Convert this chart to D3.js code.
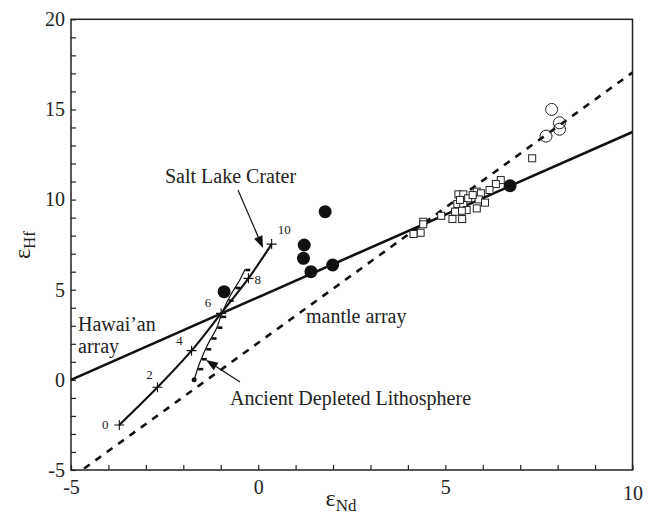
<!DOCTYPE html>
<html><head><meta charset="utf-8">
<script src="https://cdn.jsdelivr.net/npm/d3@7"></script>
<style>body{margin:0;background:#fff}svg{display:block}text{font-family:"Liberation Serif","Times New Roman",serif;fill:#222}</style>
</head><body><svg id="c" width="653" height="517"></svg>
<script>
// ---- data ----
const xTicks = [-5, 0, 5, 10];
const yTicks = [-5, 0, 5, 10, 15, 20];
const hawaiiArray = [[-5, 0], [10, 13.75]];
const mantleArray = [[-4.65, -4.92], [10, 17.05]];
const slcCurve = [[-3.71, -2.5], [-2.69, -0.41], [-1.78, 1.62], [-0.99, 3.69], [-0.26, 5.63], [0.36, 7.53]];
const slcLabels = ["0", "2", "4", "6", "8", "10"];
const adlCurve = [[-1.71, 0.0], [-1.55, 1.0], [-1.33, 2.03], [-1.11, 2.86], [-0.97, 3.69], [-0.71, 4.8], [-0.49, 5.54], [-0.35, 6.13]];
const adlBarsY = [0.6, 1.15, 1.7, 2.3, 2.9, 3.5, 4.4, 5.1, 6.1];
const filledCircles = [[1.79, 9.33], [1.23, 7.48], [1.21, 6.74], [1.41, 6.0], [1.99, 6.37], [-0.91, 4.89], [6.73, 10.77]];
const openCircles = [[7.84, 15.0], [8.05, 14.26], [8.05, 13.9], [7.69, 13.52]];
const openSquares = [[7.32, 12.29], [6.48, 11.08], [6.35, 10.86], [6.18, 10.53], [5.84, 10.44], [5.95, 10.35], [5.35, 10.29], [5.48, 10.29], [5.61, 10.07], [5.89, 10.01], [6.06, 9.83], [5.32, 9.75], [5.48, 9.7], [5.84, 9.51], [5.57, 9.42], [5.44, 9.38], [5.26, 9.33], [5.19, 8.92], [5.45, 8.92], [4.89, 9.1], [4.41, 8.77], [4.41, 8.63], [4.34, 8.16], [4.15, 8.09], [5.39, 9.98], [5.73, 10.25]];

// ---- layout ----
const svg = d3.select("#c");
const L = 71, R = 632.5, T = 19.3, B = 470;
const x = d3.scaleLinear().domain([-5, 10]).range([L, R]);
const y = d3.scaleLinear().domain([-5, 20]).range([B, T]);
const line = d3.line().x(d => x(d[0])).y(d => y(d[1]));
const fmt = d => String(d); // hyphen-minus like the reference

// axes with inward ticks
const gx = svg.append("g").attr("transform", `translate(0,${B})`);
gx.call(d3.axisBottom(x).tickValues(d3.range(-5, 11, 1)).tickSize(-5).tickPadding(0).tickFormat(""));
const gxl = svg.append("g").attr("transform", `translate(0,${B})`);
gxl.call(d3.axisBottom(x).tickValues(xTicks).tickSize(0).tickPadding(10).tickFormat(fmt));
const gy = svg.append("g").attr("transform", `translate(${L},0)`);
gy.call(d3.axisLeft(y).tickValues(d3.range(-5, 21, 1)).tickSize(-5).tickPadding(0).tickFormat(""));
const gyl = svg.append("g").attr("transform", `translate(${L},0)`);
gyl.call(d3.axisLeft(y).tickValues(yTicks).tickSize(0).tickPadding(6).tickFormat(fmt));
[gx, gxl, gy, gyl].forEach(g => { g.select(".domain").remove(); g.selectAll("line").attr("stroke", "#222").attr("stroke-width", 1.2); g.attr("font-family", "Liberation Serif").attr("font-size", 20); });
[gxl, gyl].forEach(g => g.selectAll("text").style("font-size", "20px").style("font-family", "'Liberation Serif', serif").attr("fill", "#222"));
gxl.selectAll(".tick text").attr("dy", (d) => d === 10 ? "1.0em" : "0.71em");
svg.append("rect").attr("x", L).attr("y", T).attr("width", R - L).attr("height", B - T)
  .attr("fill", "none").attr("stroke", "#222").attr("stroke-width", 1.5);

// axis titles
const xt = svg.append("text").attr("x", 341).attr("y", 506).attr("text-anchor", "middle").style("font-size", "24px");
xt.append("tspan").text("ε");
xt.append("tspan").attr("dy", 5).style("font-size", "17px").text("Nd");
const yt = svg.append("text").attr("transform", "translate(30,245) rotate(-90)").attr("text-anchor", "middle").style("font-size", "24px");
yt.append("tspan").text("ε");
yt.append("tspan").attr("dy", 5).style("font-size", "17px").text("Hf");

// lines
svg.append("path").attr("d", line(hawaiiArray)).attr("fill", "none").attr("stroke", "#111").attr("stroke-width", 2.6);
svg.append("path").attr("d", line(mantleArray)).attr("fill", "none").attr("stroke", "#111").attr("stroke-width", 2.6).attr("stroke-dasharray", "7,7");

// ADL curve with bars
svg.append("path").attr("d", d3.line().x(d => x(d[0])).y(d => y(d[1])).curve(d3.curveCatmullRom)(adlCurve))
  .attr("fill", "none").attr("stroke", "#111").attr("stroke-width", 1.2);
const adlX = d3.scaleLinear().domain(adlCurve.map(d => d[1])).range(adlCurve.map(d => d[0]));
svg.append("g").selectAll("rect").data(adlBarsY).join("rect")
  .attr("x", d => x(adlX(d)) + 0.5).attr("y", d => y(d) - 1.2).attr("width", 5).attr("height", 2.6).attr("fill", "#111");
svg.append("circle").attr("cx", x(adlCurve[0][0])).attr("cy", y(adlCurve[0][1])).attr("r", 2.5).attr("fill", "#111");

// SLC curve
svg.append("path").attr("d", d3.line().x(d => x(d[0])).y(d => y(d[1])).curve(d3.curveCatmullRom)(slcCurve))
  .attr("fill", "none").attr("stroke", "#111").attr("stroke-width", 2.1);
svg.append("g").selectAll("path").data(slcCurve).join("path")
  .attr("d", d => `M${x(d[0]) - 5},${y(d[1])}H${x(d[0]) + 5}M${x(d[0])},${y(d[1]) - 5}V${y(d[1]) + 5}`)
  .attr("stroke", "#111").attr("stroke-width", 1.1);
const lblOff = [[-14, 4], [-8, -8], [-12, -6], [-13, -6], [6, 6], [6, -10]];
svg.append("g").selectAll("text").data(slcCurve).join("text")
  .attr("x", (d, i) => x(d[0]) + lblOff[i][0]).attr("y", (d, i) => y(d[1]) + lblOff[i][1])
  .attr("text-anchor", (d, i) => i >= 4 ? "start" : "middle")
  .style("font-size", "13px").text((d, i) => slcLabels[i]);

// points
svg.append("g").selectAll("rect").data(openSquares).join("rect")
  .attr("x", d => x(d[0]) - 3.5).attr("y", d => y(d[1]) - 3.5).attr("width", 7).attr("height", 7)
  .attr("fill", "#fff").attr("stroke", "#222").attr("stroke-width", 1);
svg.append("g").selectAll("circle").data(openCircles).join("circle")
  .attr("cx", d => x(d[0])).attr("cy", d => y(d[1])).attr("r", 6)
  .attr("fill", "none").attr("stroke", "#222").attr("stroke-width", 1);
svg.append("g").selectAll("circle").data(filledCircles).join("circle")
  .attr("cx", d => x(d[0])).attr("cy", d => y(d[1])).attr("r", 6.5).attr("fill", "#111");

// arrows
function arrow(x1, y1, x2, y2) {
  const a = Math.atan2(y2 - y1, x2 - x1), len = 12, w = 4.5;
  const bx = x2 - len * Math.cos(a), by = y2 - len * Math.sin(a);
  svg.append("line").attr("x1", x1).attr("y1", y1).attr("x2", bx).attr("y2", by).attr("stroke", "#111").attr("stroke-width", 1.2);
  svg.append("path").attr("d", `M${x2},${y2}L${bx - w * Math.sin(a)},${by + w * Math.cos(a)}L${bx + w * Math.sin(a)},${by - w * Math.cos(a)}Z`).attr("fill", "#111");
}
arrow(238, 190, 263, 248);
arrow(240, 382, 206, 360);

// annotations
const ann = svg.append("g").style("font-size", "20px");
ann.append("text").attr("x", 165).attr("y", 183).text("Salt Lake Crater");
ann.append("text").attr("x", 78).attr("y", 331).text("Hawai’an");
ann.append("text").attr("x", 78).attr("y", 353).text("array");
ann.append("text").attr("x", 306).attr("y", 323).text("mantle array");
ann.append("text").attr("x", 230).attr("y", 405).text("Ancient Depleted Lithosphere");
</script></body></html>
